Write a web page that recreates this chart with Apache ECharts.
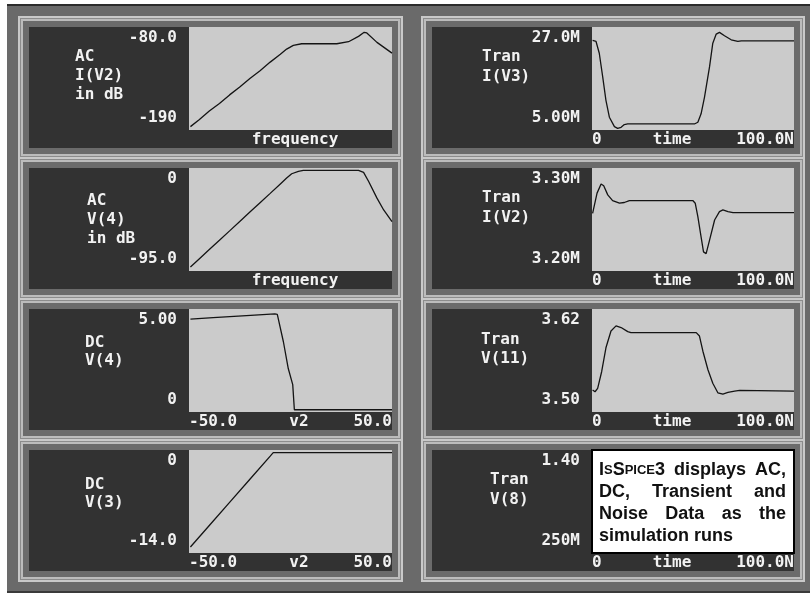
<!DOCTYPE html>
<html>
<head>
<meta charset="utf-8">
<script src="https://cdn.jsdelivr.net/npm/echarts@6/dist/echarts.min.js"></script>
<style>
  html, body { margin: 0; padding: 0; background: #ffffff; }
  #chart { width: 810px; height: 593px; }
</style>
</head>
<body>
<div id="chart"></div>
<script>
// ---------------- data ----------------
// Panel order: left column top→bottom, then right column top→bottom.
const panelTitles = [
  ['AC', 'I(V2)', 'in dB'],
  ['AC', 'V(4)', 'in dB'],
  ['DC', 'V(4)'],
  ['DC', 'V(3)'],
  ['Tran', 'I(V3)'],
  ['Tran', 'I(V2)'],
  ['Tran', 'V(11)'],
  ['Tran', 'V(8)']
];
const yMin = [-190, -95, 0, -14, 5, 3.2, 3.5, 0.25];
const yMax = [-80, 0, 5, 0, 27, 3.3, 3.62, 1.4];
const yMinLabels = ['-190', '-95.0', '0', '-14.0', '5.00M', '3.20M', '3.50', '250M'];
const yMaxLabels = ['-80.0', '0', '5.00', '0', '27.0M', '3.30M', '3.62', '1.40'];
const xMin = [0, 0, -50, -50, 0, 0, 0, 0];
const xMax = [100, 100, 50, 50, 100, 100, 100, 100];
const xMinLabels = ['', '', '-50.0', '-50.0', '0', '0', '0', '0'];
const xMaxLabels = ['', '', '50.0', '50.0', '100.0N', '100.0N', '100.0N', '100.0N'];
const xNames = ['frequency', 'frequency', 'v2', 'v2', 'time', 'time', 'time', 'time'];

// AC I(V2) in dB vs frequency (percent of sweep)
const acIV2Freq = [0.7, 5, 10, 15, 20, 25, 30, 35, 40, 45, 48.1, 51.4, 55.5, 72.8, 78.6, 83.5, 86.3, 87.6, 92.6, 100];
const acIV2dB = [-186.4, -179.0, -169.8, -161.6, -152.5, -144.1, -135.0, -126.7, -117.5, -109.2, -103.6, -99.6, -97.9, -97.9, -95.7, -90.0, -85.7, -86.4, -96.4, -107.9];

// AC V(4) in dB vs frequency
const acV4Freq = [0.7, 5, 10, 15, 20, 25, 30, 35, 40, 45, 48.1, 50.6, 53.9, 56.3, 83.5, 86.0, 88.5, 92.6, 95.9, 100];
const acV4dB = [-91.3, -83.9, -75.2, -66.6, -58.0, -49.3, -40.6, -32.0, -23.4, -14.7, -9.3, -5.3, -3.1, -2.2, -2.2, -4.0, -12.4, -27.8, -38.7, -49.5];

// DC V(4) vs v2
const dcV4Sweep = [-49.3, -38.1, -21.7, -7.7, -6.5, -3.5, -1.1, 1.1, 1.9, 50];
const dcV4Volts = [4.51, 4.58, 4.68, 4.76, 4.74, 3.41, 2.11, 1.33, 0.11, 0.11];

// DC V(3) vs v2
const dcV3Sweep = [-49.3, -40, -30, -20, -10, -8.5, 50];
const dcV3Volts = [-13.18, -10.26, -7.12, -3.98, -0.84, -0.36, -0.36];

// Tran I(V3), mA vs ns
const tranIV3Time = [0.3, 2.0, 3.6, 5.3, 6.9, 8.6, 11.1, 12.7, 14.4, 16.0, 17.7, 50.7, 52.4, 54.0, 55.7, 58.2, 59.8, 61.5, 63.1, 65.6, 68.9, 72.2, 73.9, 100];
const tranIV3mA = [24.12, 23.91, 21.39, 16.36, 11.33, 7.73, 5.72, 5.36, 5.57, 6.15, 6.29, 6.29, 6.65, 8.45, 12.04, 18.52, 23.55, 25.49, 25.85, 25.13, 24.27, 23.91, 24.05, 24.05];

// Tran I(V2), mA vs ns
const tranIV2Time = [0.3, 1.2, 2.5, 4.5, 5.8, 7.8, 10.2, 13.6, 16.0, 18.5, 49.9, 51.1, 52.4, 54.0, 55.2, 56.5, 58.2, 60.7, 63.1, 64.8, 67.3, 69.8, 100];
const tranIV2mA = [3.2560, 3.2577, 3.2756, 3.2844, 3.2827, 3.2739, 3.2684, 3.2658, 3.2665, 3.2684, 3.2684, 3.2658, 3.2528, 3.2332, 3.2186, 3.2169, 3.2300, 3.2495, 3.2577, 3.2593, 3.2577, 3.2567, 3.2567];

// Tran V(11), volts vs ns
const tranV11Time = [0.3, 1.5, 2.8, 4.8, 6.9, 9.4, 11.9, 14.4, 17.7, 19.3, 51.6, 53.2, 54.9, 57.4, 59.8, 62.3, 64.8, 67.3, 70.6, 73.1, 100];
const tranV11Volts = [3.5256, 3.5236, 3.5276, 3.5472, 3.5748, 3.5944, 3.6003, 3.5984, 3.5936, 3.5925, 3.5925, 3.5885, 3.5708, 3.5492, 3.5335, 3.5224, 3.5209, 3.5228, 3.5244, 3.5252, 3.5244];

// Trace per panel (null where the plot is covered by the caption box)
const traces = [
  [acIV2Freq, acIV2dB],
  [acV4Freq, acV4dB],
  [dcV4Sweep, dcV4Volts],
  [dcV3Sweep, dcV3Volts],
  [tranIV3Time, tranIV3mA],
  [tranIV2Time, tranIV2mA],
  [tranV11Time, tranV11Volts],
  null
];

// Caption text in the last panel
const captionLines = [
  ['IsSpice3', 'displays', 'AC,'],
  ['DC,', 'Transient', 'and'],
  ['Noise', 'Data', 'as', 'the'],
  ['simulation runs']
];

// ---------------- layout ----------------
const COLS = [{ x: 29, w: 363 }, { x: 432, w: 362 }];
const ROWS = [27, 168, 309, 450];
const PANEL_H = 121;
const PLOT_H = 103;
const PLOT_DX = 160;
const MONO = '"DejaVu Sans Mono", "Liberation Mono", monospace';
const WHITE = '#f2f2f2';
const DARK = '#323232';

// title block placement per panel: left x, first line centre (relative to panel top), line step
const titlePos = [
  { x: 75, y: 30, step: 19 },
  { x: 87, y: 33, step: 19 },
  { x: 85, y: 34, step: 18 },
  { x: 85, y: 35, step: 18 },
  { x: 482, y: 30, step: 20 },
  { x: 482, y: 30, step: 20 },
  { x: 481, y: 31, step: 19 },
  { x: 490, y: 30, step: 20 }
];

function panelBox(i) {
  const col = COLS[i < 4 ? 0 : 1];
  const top = ROWS[i % 4];
  return { x: col.x, y: top, w: col.w, h: PANEL_H };
}

const graphics = [];
// window background
graphics.push({ type: 'rect', z: -20, shape: { x: 7, y: 4, width: 803, height: 589 }, style: { fill: '#6a6a6a' } });
graphics.push({ type: 'rect', z: -19, shape: { x: 7, y: 4, width: 803, height: 2 }, style: { fill: '#2c2c2c' } });
graphics.push({ type: 'rect', z: -19, shape: { x: 7, y: 591, width: 803, height: 2 }, style: { fill: '#3a3a3a' } });

// bevelled frames around each panel
const frameRings = [
  [11, '#c9c9c9'],
  [9, '#8c8c8c'],
  [8, '#bcbcbc'],
  [6, '#6b6b6b'],
  [0, DARK]
];
for (let i = 0; i < 8; i++) {
  const b = panelBox(i);
  frameRings.forEach(([o, c], k) => {
    graphics.push({
      type: 'rect', z: -15 + k,
      shape: { x: b.x - o, y: b.y - o, width: b.w + 2 * o, height: b.h + 2 * o },
      style: { fill: c }
    });
  });
}

// panel titles
panelTitles.forEach((lines, i) => {
  const b = panelBox(i);
  const p = titlePos[i];
  lines.forEach((t, k) => {
    graphics.push({
      type: 'text', z: 10,
      x: p.x, y: b.y + p.y + k * p.step,
      style: { text: t, fill: WHITE, font: 'bold 16px ' + MONO, align: 'left', verticalAlign: 'middle' }
    });
  });
});

// caption, justified between the box margins
(function () {
  const b = panelBox(7);
  const left = b.x + PLOT_DX + 7;
  const right = b.x + b.w - 8;
  const font = 'bold 18px "Liberation Sans", Arial, sans-serif';
  const smallFont = 'bold 13px "Liberation Sans", Arial, sans-serif';
  const ctx = document.createElement('canvas').getContext('2d');
  const measure = (f, s) => { ctx.font = f; return ctx.measureText(s).width; };
  const wordWidth = (w) => w === 'IsSpice3'
    ? measure(font, 'I') + measure(smallFont, 'S') + measure(font, 'S') + measure(smallFont, 'PICE') + measure(font, '3')
    : measure(font, w);
  const rich = {
    a: { font: font, fill: '#111' },
    s: { font: smallFont, fill: '#111' }
  };
  const wordText = (w) => w === 'IsSpice3' ? '{a|I}{s|S}{a|S}{s|PICE}{a|3}' : '{a|' + w + '}';
  captionLines.forEach((words, li) => {
    const y = b.y + 20 + li * 22;
    const widths = words.map(wordWidth);
    const total = widths.reduce((s, v) => s + v, 0);
    const gap = words.length > 1 && li < captionLines.length - 1 ? (right - left - total) / (words.length - 1) : 0;
    let x = left;
    words.forEach((w, k) => {
      graphics.push({
        type: 'text', z: 20, x: x, y: y,
        style: { text: wordText(w), rich: rich, align: 'left', verticalAlign: 'middle' }
      });
      x += widths[k] + gap;
    });
  });
})();

// ---------------- grids, axes, series ----------------
const grids = [], xAxes = [], yAxes = [], series = [];
const nameShift = { frequency: [0, 0, 0, 9], v2: [0, 0, 0, 17], time: [0, 42, 0, 0] };
const near = (a, b) => Math.abs(a - b) < 1e-9;
const bare = { axisLine: { show: false }, axisTick: { show: false }, splitLine: { show: false } };

for (let i = 0; i < 8; i++) {
  const b = panelBox(i);
  const isNote = i === 7;
  grids.push({
    left: b.x + PLOT_DX, top: b.y, width: b.w - PLOT_DX, height: PLOT_H,
    show: true,
    backgroundColor: isNote ? '#ffffff' : '#cbcbcb',
    borderColor: isNote ? '#000000' : '#cbcbcb',
    borderWidth: isNote ? 2 : 0,
    z: 1
  });
  const labelStyle = { color: WHITE, fontFamily: MONO, fontWeight: 'bold', fontSize: 16, lineHeight: 16 };
  // x axis carrying the left end label
  xAxes.push(Object.assign({
    type: 'value', gridIndex: i, min: xMin[i], max: xMax[i], position: 'bottom',
    axisLabel: Object.assign({}, labelStyle, {
      margin: 2, align: 'left', showMinLabel: true,
      formatter: (v) => near(v, xMin[i]) ? xMinLabels[i] : ''
    })
  }, bare));
  // x axis carrying the right end label
  xAxes.push(Object.assign({
    type: 'value', gridIndex: i, min: xMin[i], max: xMax[i], position: 'bottom',
    axisLabel: Object.assign({}, labelStyle, {
      margin: 2, align: 'right', showMaxLabel: true,
      formatter: (v) => near(v, xMax[i]) ? xMaxLabels[i] : ''
    })
  }, bare));
  // x axis carrying only the sweep variable name
  xAxes.push(Object.assign({
    type: 'value', gridIndex: i, min: xMin[i], max: xMax[i], position: 'bottom',
    axisLabel: { show: false },
    name: xNames[i], nameLocation: 'middle', nameGap: 2,
    nameTextStyle: Object.assign({}, labelStyle, { verticalAlign: 'top', padding: nameShift[xNames[i]] })
  }, bare));
  // y axis for the top label
  yAxes.push(Object.assign({
    type: 'value', gridIndex: i, min: yMin[i], max: yMax[i], position: 'left',
    axisLabel: Object.assign({}, labelStyle, {
      margin: 12, verticalAlign: 'top', padding: [3, 0, 0, 0], showMaxLabel: true,
      formatter: (v) => near(v, yMax[i]) ? yMaxLabels[i] : ''
    })
  }, bare));
  // y axis for the bottom label
  yAxes.push(Object.assign({
    type: 'value', gridIndex: i, min: yMin[i], max: yMax[i], position: 'left',
    axisLabel: Object.assign({}, labelStyle, {
      margin: 12, verticalAlign: 'bottom', padding: [0, 0, 4, 0], showMinLabel: true,
      formatter: (v) => near(v, yMin[i]) ? yMinLabels[i] : ''
    })
  }, bare));
  const tr = traces[i];
  if (tr) {
    series.push({
      type: 'line', xAxisIndex: 3 * i, yAxisIndex: 2 * i,
      data: tr[0].map((x, k) => [x, tr[1][k]]),
      showSymbol: false, symbol: 'none', smooth: false,
      lineStyle: { color: '#141414', width: 1.3 },
      silent: true, z: 3
    });
  }
}

const chart = echarts.init(document.getElementById('chart'), null, { renderer: 'canvas' });
chart.setOption({
  animation: false,
  backgroundColor: '#ffffff',
  grid: grids,
  xAxis: xAxes,
  yAxis: yAxes,
  series: series,
  graphic: { elements: graphics }
});
</script>
</body>
</html>
